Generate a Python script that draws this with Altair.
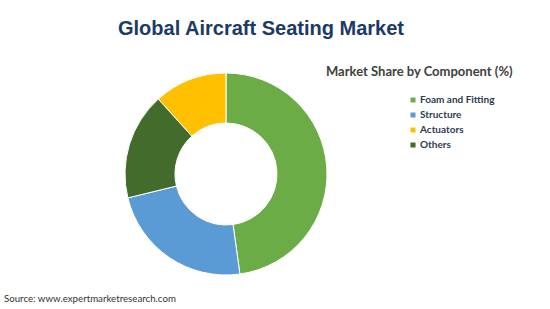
import altair as alt
import pandas as pd

components = ["Foam and Fitting", "Structure", "Actuators", "Others"]
shares = [47.8, 23.4, 11.7, 17.1]
pie_order = [0, 1, 3, 2]
colors = ["#6CAC46", "#5B9BD5", "#FFC000", "#426B2C"]

title_text = ["Global Aircraft Seating Market"]
legend_title = ["Market Share by Component (%)"]
source_text = ["Source: www.expertmarketresearch.com"]

df = pd.DataFrame({"Component": components, "Share": shares, "Order": pie_order})

donut = alt.Chart(df).mark_arc(radius=101, radius2=51, stroke="white", strokeWidth=1).encode(
    theta=alt.Theta("Share:Q", stack=True),
    order=alt.Order("Order:Q"),
    x=alt.value(226),
    y=alt.value(174),
    color=alt.Color(
        "Component:N",
        scale=alt.Scale(domain=components, range=colors),
        legend=alt.Legend(
            title=None,
            orient="none",
            legendX=408,
            legendY=95,
            symbolType="square",
            symbolSize=25,
            symbolStrokeWidth=0,
            labelFont="Lato",
            labelFontSize=10,
            labelFontWeight="bold",
            labelColor="#2E3A4F",
            labelOffset=2,
            rowPadding=5,
        ),
    ),
)

title = alt.Chart(pd.DataFrame({"t": title_text})).mark_text(
    font="Liberation Sans", fontSize=20, fontWeight="bold", color="#1B3A66",
    align="center", baseline="alphabetic"
).encode(text="t:N", x=alt.value(261), y=alt.value(35))

sub = alt.Chart(pd.DataFrame({"t": legend_title})).mark_text(
    font="Lato", fontSize=13, fontWeight="bold", color="#404040",
    align="left", baseline="alphabetic"
).encode(text="t:N", x=alt.value(326), y=alt.value(76))

source = alt.Chart(pd.DataFrame({"t": source_text})).mark_text(
    font="Lato", fontSize=9.7, color="#333333",
    align="left", baseline="alphabetic"
).encode(text="t:N", x=alt.value(4), y=alt.value(302))

chart = alt.layer(donut, title, sub, source).properties(
    width=550, height=309, padding=0, background="white",
    autosize=alt.AutoSizeParams(type="none")
).configure_view(strokeWidth=0, stroke="transparent")

chart.save("out.html", embed_options={"renderer": "svg", "actions": False})
